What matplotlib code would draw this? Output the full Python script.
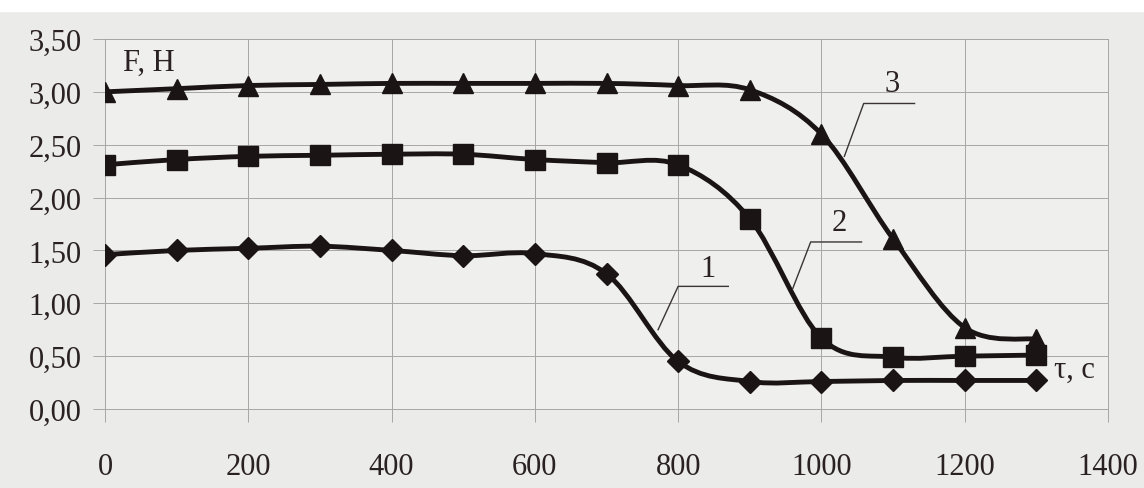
import matplotlib
matplotlib.use("Agg")
import matplotlib.pyplot as plt
from matplotlib.path import Path
from matplotlib.patches import PathPatch, Rectangle
import numpy as np

# time, s
tau = [0, 100, 200, 300, 400, 500, 600, 700, 800, 900, 1000, 1100, 1200, 1300]

# force, N
force_1 = [1.46, 1.50, 1.52, 1.54, 1.50, 1.45, 1.47, 1.28, 0.45, 0.26, 0.26, 0.27, 0.27, 0.27]
force_2 = [2.31, 2.36, 2.39, 2.40, 2.41, 2.41, 2.36, 2.33, 2.31, 1.80, 0.67, 0.49, 0.50, 0.51]
force_3 = [3.00, 3.03, 3.06, 3.07, 3.08, 3.08, 3.08, 3.08, 3.06, 3.02, 2.60, 1.61, 0.77, 0.66]

x_ticks = [0, 200, 400, 600, 800, 1000, 1200, 1400]
y_ticks = [0.0, 0.5, 1.0, 1.5, 2.0, 2.5, 3.0, 3.5]

SERIF = ["Liberation Serif", "DejaVu Serif"]
INK = "#1a1414"
GRID = "#a8a6a4"


def smooth_path(xs, ys):
    """Catmull-Rom curve through the points, as cubic Bezier segments."""
    p = np.column_stack([xs, ys]).astype(float)
    n = len(p)
    verts = [p[0]]
    codes = [Path.MOVETO]
    for i in range(n - 1):
        p0 = p[i - 1] if i > 0 else p[i]
        p1, p2 = p[i], p[i + 1]
        p3 = p[i + 2] if i + 2 < n else p[i + 1]
        c1 = p1 + (p2 - p0) / 6.0
        c2 = p2 - (p3 - p1) / 6.0
        verts += [c1, c2, p2]
        codes += [Path.CURVE4] * 3
    return Path(verts, codes)


fig = plt.figure(figsize=(11.44, 4.89), dpi=100, facecolor="#ebebe9")
fig.patches.append(Rectangle((0, 0.975), 1, 0.03, transform=fig.transFigure,
                             color="white", zorder=0))
ax = fig.add_axes([105 / 1144, 1 - 410 / 489, 1003 / 1144, 370 / 489])
ax.set_facecolor("#efefed")

series = [
    (force_1, "D", 11),
    (force_2, "s", 15),
    (force_3, "^", 14),
]
for ys, marker, ms in series:
    ax.add_patch(PathPatch(smooth_path(tau, ys), fill=False, edgecolor=INK,
                           lw=3.5, capstyle="round", zorder=3))
    ax.plot(tau, ys, ls="none", marker=marker, markersize=ms, color=INK,
            markeredgecolor=INK, zorder=4)

ax.set_xlim(0, 1400)
ax.set_ylim(0, 3.5)
ax.set_xticks(x_ticks)
ax.set_yticks(y_ticks)
ax.set_xticklabels([str(v) for v in x_ticks])
ax.set_yticklabels([f"{v:.2f}".replace(".", ",") for v in y_ticks])
for lab in ax.get_xticklabels() + ax.get_yticklabels():
    lab.set_fontfamily(SERIF)
    lab.set_fontsize(22)
    lab.set_color("#2a2222")
ax.tick_params(axis="both", length=9, width=0.7, color=GRID)
ax.tick_params(axis="x", pad=22)
ax.tick_params(axis="y", pad=8)
ax.grid(True, color=GRID, lw=0.7)
for side in ("left", "bottom", "top", "right"):
    ax.spines[side].set_color(GRID)
    ax.spines[side].set_linewidth(0.7)

# axis captions inside the plot area
ax.text(25, 3.28, "F, H", family=SERIF, fontsize=22, color="#2a2222",
        va="center", ha="left")
ax.text(1325, 0.38, "τ, c", family=SERIF, fontsize=22, color="#2a2222",
        va="center", ha="left")

# curve numbers with leader lines
callouts = [
    ("1", (772, 0.75), (800, 1.16), (870, 1.16), (842, 1.33)),
    ("2", (960, 1.14), (985, 1.58), (1056, 1.58), (1025, 1.76)),
    ("3", (1032, 2.39), (1059, 2.89), (1130, 2.89), (1098, 3.08)),
]
for num, start, knee, end, pos in callouts:
    ax.plot([start[0], knee[0], end[0]], [start[1], knee[1], end[1]],
            color="#3a3434", lw=1.0, zorder=5)
    ax.text(pos[0], pos[1], num, family=SERIF, fontsize=22, color="#2a2222",
            ha="center", va="center", zorder=5)

fig.savefig("out.png", dpi=100, facecolor=fig.get_facecolor())
